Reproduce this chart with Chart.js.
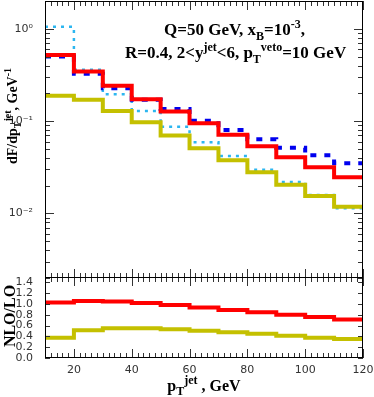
<!DOCTYPE html>
<html>
<head>
<meta charset="utf-8">
<script src="https://cdn.jsdelivr.net/npm/chart.js@4/dist/chart.umd.min.js"></script>
<style>
  body { margin: 0; background: #fff; }
  #wrap { position: relative; width: 374px; height: 397px; }
  canvas { position: absolute; left: 0; }
  #topChart { top: 0; }
  #ratioChart { top: 277px; }
</style>
</head>
<body>
<div id="wrap">
  <canvas id="topChart" width="374" height="279"></canvas>
  <canvas id="ratioChart" width="374" height="120"></canvas>
</div>
<script>
// Bin edges of the pT jet histogram (GeV)
const binEdges = [10, 20, 30, 40, 50, 60, 70, 80, 90, 100, 110, 120];

// Upper panel: dF/dpT, one value per bin
const redSolid = [0.52, 0.344, 0.241, 0.173, 0.127, 0.095, 0.0714, 0.0534, 0.0406, 0.0316, 0.0246];
const blueDashed = [0.50, 0.325, 0.227, 0.170, 0.135, 0.101, 0.080, 0.0636, 0.0516, 0.0427, 0.0349];
const cyanDotted = [1.05, 0.359, 0.196, 0.129, 0.087, 0.059, 0.042, 0.0298, 0.0219, 0.0158, 0.0114];
const oliveSolid = [0.188, 0.170, 0.129, 0.097, 0.070, 0.0508, 0.0377, 0.0279, 0.0205, 0.0155, 0.0118];

// Lower panel: NLO/LO ratios
const ratioRed = [1.026, 1.056, 1.045, 1.019, 0.98, 0.933, 0.888, 0.845, 0.80, 0.757, 0.715];
const ratioOlive = [0.373, 0.515, 0.552, 0.552, 0.534, 0.504, 0.478, 0.448, 0.41, 0.373, 0.354];

// Axis ticks
const xTickLabels = [20, 40, 60, 80, 100, 120];
const logTickLabels = [0.01, 0.1, 1];
const ratioTickLabels = [0, 0.2, 0.4, 0.6, 0.8, 1.0, 1.2, 1.4];

const TICK_FONT = { family: "'DejaVu Sans', sans-serif", size: 11 };
const TITLE_FONT = "'Liberation Serif', 'Times New Roman', serif";

// Turn bin values into points for a stepped line
function histPoints(values) {
  const pts = values.map((v, i) => ({ x: binEdges[i], y: v }));
  pts.push({ x: binEdges[binEdges.length - 1], y: values[values.length - 1] });
  return pts;
}

// Draw text with sub/superscripts: parts = [[text, 'n'|'sub'|'sup'], ...]
function drawRich(ctx, parts, x, y, size, align, rotate) {
  let total = 0;
  const segs = parts.map(([t, k]) => {
    const s = k === "n" ? size : Math.round(size * 0.72);
    ctx.font = `bold ${s}px ${TITLE_FONT}`;
    const w = ctx.measureText(t).width;
    const dy = k === "sub" ? size * 0.28 : k === "sup" ? -size * 0.42 : 0;
    total += w;
    return { t, s, dy, w };
  });
  ctx.save();
  ctx.translate(x, y);
  if (rotate) ctx.rotate(-Math.PI / 2);
  ctx.fillStyle = "#000";
  ctx.textBaseline = "alphabetic";
  let cx = align === "center" ? -total / 2 : 0;
  segs.forEach((g) => {
    ctx.font = `bold ${g.s}px ${TITLE_FONT}`;
    ctx.fillText(g.t, cx, g.dy);
    cx += g.w;
  });
  ctx.restore();
}

// Fix the axis box size and drop the label overflow padding
function fixBox(size) {
  return (s) => {
    if (s.isHorizontal()) s.height = size;
    else s.width = size;
    s.paddingTop = 0;
    s.paddingBottom = 0;
    s.paddingLeft = 0;
    s.paddingRight = 0;
  };
}

// Inward tick marks on all four sides + black frame
const frameTicks = {
  id: "frameTicks",
  afterDraw(chart, args, opts) {
    const { ctx, chartArea: a, scales } = chart;
    const xs = scales.x;
    const ys = scales.y;
    ctx.save();
    ctx.strokeStyle = "#333";
    ctx.lineWidth = 1;
    ctx.beginPath();
    for (let v = 10; v <= 120; v += 2) {
      const px = Math.round(xs.getPixelForValue(v)) + 0.5;
      const len = v % 20 === 0 ? 9 : 5;
      ctx.moveTo(px, a.top);
      ctx.lineTo(px, a.top + len);
      ctx.moveTo(px, a.bottom);
      ctx.lineTo(px, a.bottom - len);
    }
    opts.yTicks.forEach(([v, len]) => {
      const py = Math.round(ys.getPixelForValue(v)) + 0.5;
      ctx.moveTo(a.left, py);
      ctx.lineTo(a.left + len, py);
      ctx.moveTo(a.right, py);
      ctx.lineTo(a.right - len, py);
    });
    ctx.stroke();
    ctx.strokeStyle = "#000";
    ctx.strokeRect(a.left + 0.5, a.top + 0.5, a.width - 1, a.height - 1);
    ctx.restore();
  },
};

// log minor/major ticks for upper panel
const logTicks = [];
[0.001, 0.01, 0.1, 1].forEach((d) => {
  for (let m = 1; m <= 9; m++) {
    const v = m * d;
    if (v >= 0.002 && v <= 2.0001) logTicks.push([v, m === 1 ? 9 : 5]);
  }
});

const supDigits = { "0": "\u2070", "1": "\u00b9", "2": "\u00b2", "3": "\u00b3", "-": "\u207b" };
function powLabel(v) {
  const e = String(Math.round(Math.log10(v)));
  return "10" + e.split("").map((c) => supDigits[c]).join("");
}

const topTexts = {
  id: "topTexts",
  afterDraw(chart) {
    const ctx = chart.ctx;
    drawRich(ctx, [["Q=50 GeV, x", "n"], ["B", "sub"], ["=10", "n"], ["-3", "sup"], [",", "n"]], 164, 35, 17, "left");
    drawRich(ctx, [["R=0.4, 2<y", "n"], ["jet", "sup"], ["<6, p", "n"], ["T", "sub"], ["veto", "sup"], ["=10 GeV", "n"]], 125, 58, 17, "left");
    drawRich(ctx, [["dF/dp", "n"], ["T", "sub"], ["jet", "sup"], [", GeV", "n"], ["-1", "sup"]], 17, 116, 14, "center", true);
  },
};

const bottomTexts = {
  id: "bottomTexts",
  afterDraw(chart) {
    const ctx = chart.ctx;
    drawRich(ctx, [["NLO/LO", "n"]], 15, 39, 16, "center", true);
    drawRich(ctx, [["p", "n"], ["T", "sub"], ["jet", "sup"], [" , GeV", "n"]], 204, 114, 16, "center");
  },
};

function stepSet(values, color, width, dash) {
  return {
    data: histPoints(values),
    borderColor: color,
    borderWidth: width,
    borderDash: dash,
    stepped: "before",
    pointRadius: 0,
    fill: false,
  };
}

const topChart = new Chart(document.getElementById("topChart").getContext("2d"), {
  type: "line",
  data: {
    datasets: [
      stepSet(redSolid, "#ff0000", 4, []),
      stepSet(blueDashed, "#0000ee", 4, [6, 8]),
      stepSet(oliveSolid, "#c4c000", 4, []),
      stepSet(cyanDotted, "#2cb6f0", 2.5, [3, 5]),
    ],
  },
  options: {
    responsive: false,
    animation: false,
    layout: { padding: { left: 0, right: 11, top: 1, bottom: 0 } },
    plugins: { legend: { display: false }, tooltip: { enabled: false }, frameTicks: { yTicks: logTicks } },
    scales: {
      x: {
        type: "linear",
        min: 10,
        max: 120,
        grid: { display: false },
        border: { display: false },
        ticks: { display: false },
        afterFit: fixBox(1),
      },
      y: {
        type: "logarithmic",
        min: 0.002,
        max: 2,
        grid: { display: false, drawTicks: false },
        border: { display: false },
        afterBuildTicks: (s) => { s.ticks = logTickLabels.map((v) => ({ value: v })); },
        ticks: { font: TICK_FONT, color: "#333", padding: 12, autoSkip: false, callback: (v) => powLabel(v) },
        afterFit: fixBox(45),
      },
    },
  },
  plugins: [frameTicks, topTexts],
});

const ratioChart = new Chart(document.getElementById("ratioChart").getContext("2d"), {
  type: "line",
  data: {
    datasets: [
      stepSet(ratioRed, "#ff0000", 4, []),
      stepSet(ratioOlive, "#c4c000", 4, []),
    ],
  },
  options: {
    responsive: false,
    animation: false,
    layout: { padding: { left: 0, right: 11, top: 0, bottom: 0 } },
    plugins: {
      legend: { display: false },
      tooltip: { enabled: false },
      frameTicks: { yTicks: ratioTickLabels.map((v) => [v, 5]) },
    },
    scales: {
      x: {
        type: "linear",
        min: 10,
        max: 120,
        grid: { display: false, drawTicks: false },
        border: { display: false },
        afterBuildTicks: (s) => { s.ticks = xTickLabels.map((v) => ({ value: v })); },
        ticks: { font: TICK_FONT, color: "#333", padding: 6, maxRotation: 0, autoSkip: false },
        afterFit: fixBox(39),
      },
      y: {
        type: "linear",
        min: 0,
        max: 1.5,
        grid: { display: false, drawTicks: false },
        border: { display: false },
        afterBuildTicks: (s) => { s.ticks = ratioTickLabels.map((v) => ({ value: v })); },
        ticks: { font: TICK_FONT, color: "#333", padding: 12, autoSkip: false, callback: (v) => v.toFixed(1) },
        afterFit: fixBox(45),
      },
    },
  },
  plugins: [frameTicks, bottomTexts],
});
</script>
</body>
</html>
